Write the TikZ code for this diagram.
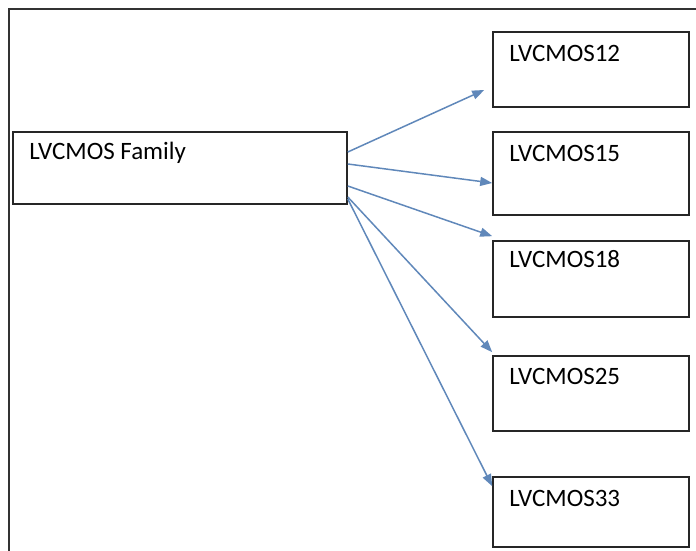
\documentclass[tikz,border=0pt]{standalone}
\usepackage{fontspec}
\setmainfont{Carlito}
\usepackage{tikz}
\usetikzlibrary{arrows.meta,positioning}

\definecolor{arrowblue}{RGB}{96,136,186}
\definecolor{framegray}{RGB}{50,50,50}

\begin{document}
\begin{tikzpicture}[x=1pt, y=1pt,
    lvbox/.style={rectangle, draw=black!85, line width=1.6pt, minimum width=196pt, inner sep=0pt},
    lvtext/.style={anchor=base west, xshift=17pt, yshift=-29pt, inner sep=0pt, font=\fontsize{25}{29}\selectfont},
    lvarrow/.style={draw=arrowblue, line width=1.5pt, -{Triangle[length=12pt, width=9pt]}}]
    \useasboundingbox (0,0) rectangle (696,551);
    \clip (0,0) rectangle (696,551);

    % outer frame
    \draw[framegray, line width=2pt] (9,-20) rectangle (720,542);

    % family box
    \node[lvbox, minimum width=334pt, minimum height=72pt,
          label={[lvtext, yshift=1pt]north west:LVCMOS Family}] (main) at (180, 383) {};

    % standard boxes
    \node[lvbox, minimum height=75pt, label={[lvtext, yshift=-1pt]north west:LVCMOS12}] (b12) at (591, 481.5) {};
    \node[lvbox, minimum height=83pt, label={[lvtext, yshift=-1pt]north west:LVCMOS15}] (b15) at (591, 377.5) {};
    \node[lvbox, minimum height=76pt, label={[lvtext, yshift=2pt]north west:LVCMOS18}] (b18) at (591, 272) {};
    \node[lvbox, minimum height=75pt, label={[lvtext]north west:LVCMOS25}] (b25) at (591, 157.5) {};
    \node[lvbox, minimum height=70pt, label={[lvtext, yshift=-1pt]north west:LVCMOS33}] (b33) at (591, 39) {};

    % arrows
    \draw[lvarrow] ([yshift=16pt]main.east) -- ([xshift=-8pt, yshift=-20.5pt]b12.west);
    \draw[lvarrow] ([yshift=4pt]main.east) -- ([yshift=-9.5pt]b15.west);
    \draw[lvarrow] ([yshift=-18pt]main.east) -- ([yshift=4pt]b18.north west);
    \draw[lvarrow] ([yshift=-29pt]main.east) -- ([yshift=3pt]b25.north west);
    \draw[lvarrow] ([yshift=-31pt]main.east) -- ([yshift=-10pt]b33.north west);
\end{tikzpicture}
\end{document}
